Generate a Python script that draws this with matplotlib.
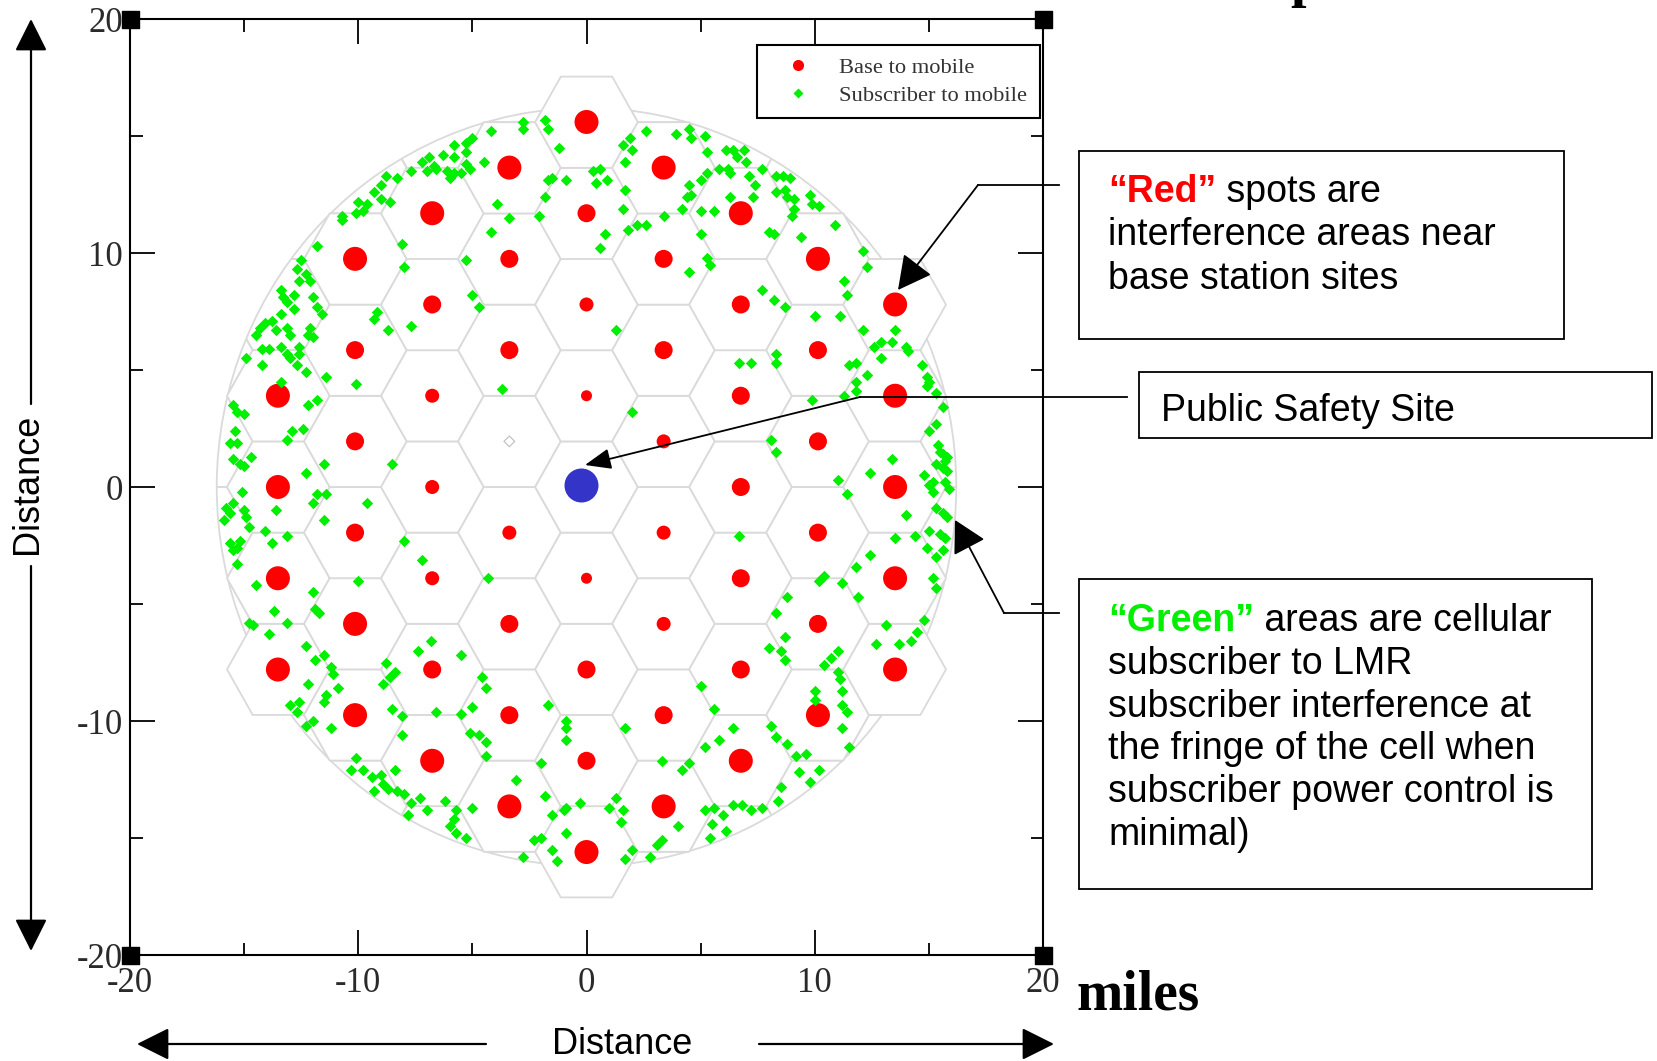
import numpy as np
import matplotlib
matplotlib.use('Agg')
import matplotlib.pyplot as plt
from matplotlib.patches import RegularPolygon, Circle, Rectangle
from matplotlib.lines import Line2D

plt.rcParams['axes.unicode_minus'] = False

# cell layout, miles
hex_radius = 2.25
cell_ring = 15.7          # cells drawn whole up to this distance from the site
coverage_radius = 16.2    # outer cells are cut at this radius
open_cells = [(-4, 2)]    # (column, row) cells left without a base station

# base to mobile interference spots: x, y (miles) and strength level 1..4
red_x = [0, 0, 0, 0, 0, 0, 0, 0,
         -3.38, -3.38, -3.38, -3.38, -3.38, -3.38, -3.38,
         3.38, 3.38, 3.38, 3.38, 3.38, 3.38, 3.38, 3.38,
         -6.76, -6.76, -6.76, -6.76, -6.76, -6.76, -6.76,
         6.76, 6.76, 6.76, 6.76, 6.76, 6.76, 6.76,
         -10.14, -10.14, -10.14, -10.14, -10.14, -10.14,
         10.14, 10.14, 10.14, 10.14, 10.14, 10.14,
         -13.52, -13.52, -13.52, -13.52,
         13.52, 13.52, 13.52, 13.52, 13.52]
red_y = [15.6, 11.7, 7.8, 3.9, -3.9, -7.8, -11.7, -15.6,
         13.65, 9.75, 5.85, -1.95, -5.85, -9.75, -13.65,
         13.65, 9.75, 5.85, 1.95, -1.95, -5.85, -9.75, -13.65,
         11.7, 7.8, 3.9, 0, -3.9, -7.8, -11.7,
         11.7, 7.8, 3.9, 0, -3.9, -7.8, -11.7,
         9.75, 5.85, 1.95, -1.95, -5.85, -9.75,
         9.75, 5.85, 1.95, -1.95, -5.85, -9.75,
         3.9, 0, -3.9, -7.8,
         7.8, 3.9, 0, -3.9, -7.8]
red_level = [4, 3, 2, 1, 1, 3, 3, 4,
             4, 3, 3, 2, 3, 3, 4,
             4, 3, 3, 2, 2, 2, 3, 4,
             4, 3, 2, 2, 2, 3, 4,
             4, 3, 3, 3, 3, 3, 4,
             4, 3, 3, 3, 4, 4,
             4, 3, 3, 3, 3, 4,
             4, 4, 4, 4,
             4, 4, 4, 4, 4]

# subscriber to mobile interference points (x, y miles)
green_pts = [
    (-2.8, 15.6), (-2.8, 15.3), (-1.8, 15.7), (-1.7, 15.3), (-4.2, 15.2), (-5.0, 14.9),
    (-5.3, 14.7), (-5.8, 14.6), (-6.3, 14.2), (-5.8, 14.1), (-5.3, 14.3), (-5.3, 13.8),
    (-6.9, 14.1), (-7.2, 13.9), (-6.7, 13.7), (-7.0, 13.5), (-6.6, 13.6), (-6.1, 13.5),
    (-5.8, 13.4), (-6.0, 13.2), (-5.5, 13.4), (-5.1, 13.6), (-4.5, 13.9), (-7.7, 13.5),
    (-8.3, 13.2), (-8.8, 13.3), (-9.0, 12.9), (-9.3, 12.6), (-9.0, 12.3), (-8.6, 12.2),
    (-9.6, 12.1), (-10.0, 12.2), (-9.8, 11.8), (-10.1, 11.7), (-10.7, 11.6), (-10.7, 11.4),
    (-11.8, 10.3), (-12.5, 9.7), (-12.7, 9.3), (-12.3, 9.1), (-12.1, 8.8), (-12.6, 8.8),
    (-13.4, 8.4), (-13.3, 8.1), (-13.1, 7.9), (-12.8, 8.2), (-12.0, 8.1), (-11.8, 7.7),
    (-11.6, 7.4), (-12.8, 7.6), (-13.4, 7.4), (-13.8, 7.1), (-14.1, 7.0), (-14.3, 6.8),
    (-14.5, 6.5), (-13.6, 6.7), (-13.1, 6.8), (-13.0, 6.5), (-12.1, 6.8), (-12.2, 6.5),
    (-12.0, 6.4), (-13.4, 6.0), (-13.9, 5.9), (-14.2, 5.9), (-12.6, 6.0), (-12.6, 5.7),
    (-13.1, 5.7), (-13.0, 5.5), (-14.9, 5.5), (-14.2, 5.2), (-12.7, 5.2), (-12.3, 4.9),
    (-11.4, 4.7), (-10.1, 4.4), (-13.4, 4.5), (-11.8, 3.7), (-12.2, 3.5), (-15.5, 3.5),
    (-15.3, 3.2), (-15.0, 3.1), (-15.4, 2.4), (-15.3, 1.9), (-15.6, 1.9), (-12.9, 2.4),
    (-12.4, 2.5), (-13.1, 2.0),
    (-8.1, 10.4), (-8.0, 9.4), (-5.3, 9.7), (-5.0, 8.2), (-4.7, 7.7), (-9.2, 7.5),
    (-9.3, 7.2), (-8.7, 6.7), (-7.7, 6.9), (-3.9, 12.1), (-3.4, 11.5), (-2.1, 11.6),
    (-4.2, 10.9), (-3.7, 4.2), (-1.2, 14.5), (-1.7, 13.1), (-1.5, 13.2), (-0.9, 13.1),
    (-1.8, 12.4), (0.3, 13.5), (0.6, 13.6), (0.9, 13.1), (0.4, 13.0), (1.7, 12.7),
    (1.6, 11.9), (0.8, 10.8), (0.6, 10.2), (1.8, 11.0), (2.2, 11.2), (2.6, 11.2),
    (1.6, 14.6), (1.9, 14.9), (2.0, 14.4), (1.7, 13.9), (2.6, 15.2), (1.3, 6.7), (2.0, 3.2),
    (3.9, 15.1), (4.5, 15.3), (4.6, 14.9), (5.2, 15.0), (5.3, 14.3), (6.1, 14.4),
    (6.4, 14.4), (6.6, 14.1), (6.9, 14.4), (7.0, 13.9), (5.8, 13.6), (6.2, 13.6),
    (6.3, 13.4), (5.3, 13.4), (5.0, 13.1), (4.5, 12.9), (4.4, 12.4), (4.6, 12.5),
    (4.2, 11.9), (5.0, 11.8), (5.6, 11.8), (7.1, 13.3), (7.4, 12.9), (7.3, 12.4),
    (7.7, 13.6), (8.3, 13.3), (8.6, 13.3), (8.9, 13.2), (8.3, 12.6), (8.7, 12.7),
    (8.8, 12.4), (9.1, 12.3), (9.1, 11.9), (9.8, 12.5), (9.9, 12.1), (10.2, 12.0),
    (9.0, 11.6), (8.0, 10.9), (8.2, 10.8), (9.4, 10.7), (10.9, 11.2), (6.3, 12.4),
    (5.0, 10.8), (5.3, 9.8), (5.4, 9.5), (4.5, 9.2), (7.7, 8.4), (8.2, 8.0), (8.7, 7.7),
    (12.1, 10.1), (12.3, 9.4), (11.3, 8.8), (11.4, 8.2), (10.0, 7.3), (11.1, 7.3),
    (12.1, 6.7), (13.5, 6.7), (13.4, 6.2), (14.0, 6.0), (12.6, 6.0), (12.9, 5.5),
    (11.5, 5.2), (11.8, 5.3), (12.3, 4.8), (11.8, 4.5), (11.8, 4.1), (11.3, 3.9),
    (14.7, 5.2), (14.9, 4.7), (14.9, 4.3), (15.3, 4.0), (15.6, 3.4), (15.3, 2.7),
    (15.0, 2.4), (15.4, 1.8), (15.6, 1.4), (15.3, 1.0), (15.7, 1.1), (15.8, 0.7),
    (6.7, 5.3), (7.2, 5.3), (8.3, 5.7), (8.3, 5.3), (9.9, 3.7), (8.1, 2.0), (8.3, 1.5),
    (13.4, 1.2), (12.4, 0.6), (14.8, 0.5), (3.4, 11.6), (15.0, 4.5), (15.5, 1.5),
    (15.8, 1.3), (15.6, 0.8), (15.2, 0.2), (12.9, 6.2), (14.1, 5.8), (11.0, 0.3),
    (11.4, -0.3), (15.0, 0.1), (15.7, 0.2), (15.9, -0.1), (15.2, -0.2), (14.0, -1.2),
    (15.3, -0.9), (15.6, -1.1), (15.8, -1.3), (15.0, -1.9), (15.5, -2.0), (15.7, -2.2),
    (14.4, -2.1), (13.5, -2.2), (14.9, -2.6), (15.6, -2.7), (15.3, -3.0), (12.4, -2.9),
    (11.8, -3.4), (15.2, -3.9), (15.3, -4.3), (10.4, -3.8), (10.2, -4.0), (11.2, -4.1),
    (11.9, -4.7), (8.8, -4.7), (8.3, -5.4), (6.7, -2.1), (13.1, -5.9), (14.8, -5.7),
    (14.5, -6.2), (14.2, -6.6), (13.7, -6.7), (12.7, -6.7), (8.7, -6.4), (8.0, -6.9),
    (8.5, -7.0), (8.7, -7.4), (11.0, -7.0), (10.7, -7.3), (10.4, -7.6), (11.0, -7.9),
    (11.1, -8.2), (10.0, -8.7), (10.0, -9.1), (11.2, -8.7), (11.2, -9.3), (11.4, -9.6),
    (11.2, -10.3), (11.5, -11.1), (5.0, -8.5), (5.6, -9.5), (1.7, -10.3), (6.4, -10.3),
    (5.8, -10.8), (5.2, -11.1), (8.1, -10.2), (8.3, -10.7), (8.8, -11.0), (9.2, -11.5),
    (9.6, -11.4), (3.3, -11.7), (4.5, -11.8), (4.2, -12.1), (9.3, -12.2), (9.8, -12.6),
    (10.2, -12.1), (8.5, -12.8), (8.4, -13.4), (7.7, -13.7), (7.2, -13.8), (6.8, -13.6),
    (6.4, -13.6), (6.0, -14.0), (5.6, -13.7), (5.2, -13.8), (5.5, -14.4), (6.1, -14.7),
    (5.4, -15.0), (4.0, -14.5), (1.3, -13.3), (1.0, -13.7), (1.6, -13.8), (1.5, -14.3),
    (3.3, -15.1), (3.1, -15.3), (2.0, -15.5), (1.7, -15.9), (2.8, -15.8),
    (-15.5, 1.2), (-15.2, 1.0), (-15.0, 0.9), (-14.7, 1.3), (-11.5, 1.0), (-12.3, 0.6),
    (-15.1, -0.2), (-8.5, 1.0), (-11.8, -0.3), (-11.4, -0.3), (-12.0, -0.7), (-9.6, -0.7),
    (-13.6, -1.0), (-15.0, -1.0), (-14.9, -1.3), (-15.8, -0.9), (-15.6, -1.1), (-15.9, -1.4),
    (-15.5, -0.7), (-11.5, -1.4), (-14.8, -1.7), (-14.1, -1.9), (-13.1, -2.1), (-13.8, -2.4),
    (-15.6, -2.4), (-15.3, -2.6), (-15.2, -2.3), (-15.5, -2.7), (-15.3, -3.3), (-8.0, -2.3),
    (-7.2, -3.1), (-4.3, -3.9), (-10.0, -4.0), (-14.5, -4.2), (-12.0, -4.5), (-11.9, -5.2),
    (-11.7, -5.4), (-13.7, -5.3), (-13.1, -5.8), (-14.8, -5.8), (-14.6, -5.9), (-13.9, -6.3),
    (-12.3, -6.8), (-11.9, -7.4), (-11.5, -7.2), (-11.2, -7.7), (-11.1, -8.0), (-10.9, -8.6),
    (-11.4, -8.9), (-11.5, -9.2), (-12.2, -8.4), (-13.0, -9.3), (-12.7, -9.6), (-12.6, -9.2),
    (-12.3, -10.2), (-12.0, -10.0), (-11.2, -10.3), (-8.8, -7.5), (-8.4, -7.9), (-8.6, -8.1),
    (-8.9, -8.4), (-7.4, -7.0), (-6.8, -6.6), (-5.5, -7.2), (-4.6, -8.1), (-4.4, -8.6),
    (-8.5, -9.5), (-8.1, -9.8), (-8.1, -10.6), (-6.6, -9.6), (-5.5, -9.7), (-5.0, -9.4),
    (-5.1, -10.5), (-4.7, -10.6), (-4.4, -10.9), (-4.4, -11.5), (-1.7, -9.3), (-0.9, -10.0),
    (-0.9, -10.3), (-0.9, -10.8), (-2.0, -11.8), (-10.1, -11.6), (-10.3, -12.1), (-9.8, -12.1),
    (-9.4, -12.4), (-9.0, -12.3), (-8.4, -12.1), (-8.9, -12.7), (-8.7, -12.9), (-9.3, -13.0),
    (-8.3, -13.0), (-8.0, -13.1), (-7.7, -13.5), (-7.3, -13.3), (-7.0, -13.8), (-7.8, -14.0),
    (-6.2, -13.4), (-5.0, -13.7), (-5.7, -13.8), (-5.8, -14.2), (-6.0, -14.5), (-5.7, -14.8),
    (-5.3, -15.0), (-3.1, -12.5), (-1.8, -13.2), (-1.5, -14.0), (-1.0, -13.8), (-0.9, -13.7),
    (-0.3, -13.5), (-0.9, -14.8), (-2.3, -15.1), (-2.0, -15.0), (-1.5, -15.5), (-2.8, -15.8),
    (-1.3, -16.0),
]
green_x = [p[0] for p in green_pts]
green_y = [p[1] for p in green_pts]

site_x, site_y = -0.25, 0.1        # public safety site
empty_x, empty_y = -3.38, 1.95     # cell with no interference

tick_major = [-20, -10, 0, 10, 20]
tick_minor = [-15, -5, 5, 15]

W, H = 1657, 1061
grid_grey = '#dadada'
red = '#ff0000'
green = '#00f000'

fig = plt.figure(figsize=(W / 100, H / 100), dpi=100)
ax = fig.add_axes([130 / W, 1 - 955 / H, (1043 - 130) / W, (955 - 19) / H])
ax.set_xlim(-20, 20)
ax.set_ylim(-20, 20)

# hexagonal cells
clip_circle = Circle((0, 0), coverage_radius, transform=ax.transData)
root3 = np.sqrt(3)
for c in range(-6, 7):
    for r in range(-6, 7):
        cx = 1.5 * hex_radius * c
        cy = root3 * hex_radius * (r + 0.5 * (c % 2))
        d = np.hypot(cx, cy)
        if d > coverage_radius + hex_radius:
            continue
        whole = d <= cell_ring and (c, r) not in open_cells
        hp = RegularPolygon((cx, cy), 6, radius=hex_radius, orientation=np.pi / 6,
                            fc='white' if whole else 'none', ec=grid_grey, lw=1.3,
                            zorder=2 if whole else 1)
        ax.add_patch(hp)
        if not whole:
            hp.set_clip_path(clip_circle)
ax.add_patch(Circle((0, 0), coverage_radius, fill=False, ec=grid_grey, lw=1.3, zorder=1))

ax.scatter([empty_x], [empty_y], marker='D', s=30, facecolors='none',
           edgecolors='#c4c4c4', linewidths=0.9, zorder=3)

level_px = {1: 11, 2: 14, 3: 18, 4: 24}
red_s = [(level_px[l] * 0.72) ** 2 for l in red_level]
ax.scatter(red_x, red_y, s=red_s, c=red, linewidths=0, zorder=4)
ax.scatter(green_x, green_y, marker='D', s=34, c=green, linewidths=0, zorder=5)
ax.scatter([site_x], [site_y], s=(34 * 0.72) ** 2, c='#3434c8', linewidths=0, zorder=6)

# axes in the xmgrace look
for sp in ax.spines.values():
    sp.set_linewidth(1.5)
ax.set_xticks(tick_major)
ax.set_yticks(tick_major)
ax.set_xticks(tick_minor, minor=True)
ax.set_yticks(tick_minor, minor=True)
ax.tick_params(which='both', direction='in', top=True, right=True, width=1.3)
ax.tick_params(which='major', length=18)
ax.tick_params(which='minor', length=9)
ax.tick_params(axis='x', pad=9)
ax.tick_params(axis='y', pad=5)
for lab in ax.get_xticklabels() + ax.get_yticklabels():
    lab.set_fontfamily('Liberation Serif')
    lab.set_fontsize(25)
    lab.set_color('#2a2a2a')
ax.scatter([-20, 20, -20, 20], [20, 20, -20, -20], marker='s', s=(17 * 0.72) ** 2,
           c='k', clip_on=False, zorder=10)

handles = [Line2D([], [], ls='none', marker='o', ms=8, mfc=red, mec='none'),
           Line2D([], [], ls='none', marker='D', ms=5.2, mfc=green, mec='none')]
leg = ax.legend(handles, ['Base to mobile', 'Subscriber to mobile'],
                loc='upper left', bbox_to_anchor=(757 / W, 1 - 45 / H),
                bbox_transform=fig.transFigure, borderaxespad=0, borderpad=0.55,
                handlelength=2.5, handletextpad=0.6, labelspacing=0.3,
                fancybox=False, framealpha=1, edgecolor='k',
                prop={'family': 'Liberation Serif', 'size': 16.2})
leg.get_frame().set_linewidth(1.5)
for t in leg.get_texts():
    t.set_color('#333333')

# overlay in figure pixels for the notes, arrows and outer labels
ov = fig.add_axes([0, 0, 1, 1], zorder=5)
ov.set_xlim(0, W)
ov.set_ylim(H, 0)
ov.axis('off')
ov.patch.set_facecolor('none')

sans = 'Liberation Sans'
fs = 27


def arrow(tail, tip, hl, hw, lw=1.3):
    ov.annotate('', xy=tip, xytext=tail,
                arrowprops=dict(arrowstyle='-|>,head_length=%s,head_width=%s' % (hl, hw),
                                color='k', lw=lw, shrinkA=0, shrinkB=0, mutation_scale=20))


# y axis label with arrows
ov.text(27, 484, 'Distance', rotation=90, ha='center', va='center', fontsize=26, family=sans)
arrow((31, 404), (31, 19), 1.0, 0.5, lw=1.6)
arrow((31, 566), (31, 951), 1.0, 0.5, lw=1.6)
# x axis label with arrows
ov.text(622, 1045, 'Distance', ha='center', va='center', fontsize=26, family=sans)
arrow((486, 1044), (137, 1044), 1.0, 0.5, lw=1.6)
arrow((759, 1044), (1054, 1044), 1.0, 0.5, lw=1.6)

ov.text(1076, 1009, 'miles', ha='left', va='baseline', fontsize=40,
        fontweight='bold', family='Liberation Serif')
ov.text(1290, -4, 'p', ha='left', va='baseline', fontsize=40,
        fontweight='bold', family='Liberation Serif')

renderer = fig.canvas.get_renderer()


def rich_line(x, y, parts):
    for s, color, weight in parts:
        t = ov.text(x, y, s, color=color, fontweight=weight, fontsize=fs,
                    family=sans, ha='left', va='baseline')
        x += t.get_window_extent(renderer=renderer).width


# "Red" note
ov.add_patch(Rectangle((1079, 151), 485, 188, fill=False, ec='k', lw=1.3))
rich_line(1108, 202, [('\u201cRed\u201d', red, 'bold'), (' spots are', 'k', 'normal')])
rich_line(1108, 245, [('interference areas near', 'k', 'normal')])
rich_line(1108, 289, [('base station sites', 'k', 'normal')])
ov.plot([1059, 978], [185, 185], color='k', lw=1.3)
arrow((978, 185), (898, 290), 1.05, 0.55)

# public safety note
ov.add_patch(Rectangle((1139, 372), 513, 66, fill=False, ec='k', lw=1.3))
rich_line(1161, 421, [('Public Safety Site', 'k', 'normal')])
ov.plot([1127, 860], [397, 397], color='k', lw=1.3)
arrow((860, 397), (585, 465), 0.8, 0.32)

# "Green" note
ov.add_patch(Rectangle((1079, 579), 513, 310, fill=False, ec='k', lw=1.3))
rich_line(1108, 631, [('\u201cGreen\u201d', green, 'bold'), (' areas are cellular', 'k', 'normal')])
green_lines = ['subscriber to LMR', 'subscriber interference at',
               'the fringe of the cell when', 'subscriber power control is', 'minimal)']
for i, s in enumerate(green_lines):
    rich_line(1108, 674 + 42.7 * i, [(s, 'k', 'normal')])
ov.plot([1059, 1004], [613, 613], color='k', lw=1.3)
arrow((1004, 613), (955, 520), 1.0, 0.55)

fig.savefig('out.png', dpi=100)
